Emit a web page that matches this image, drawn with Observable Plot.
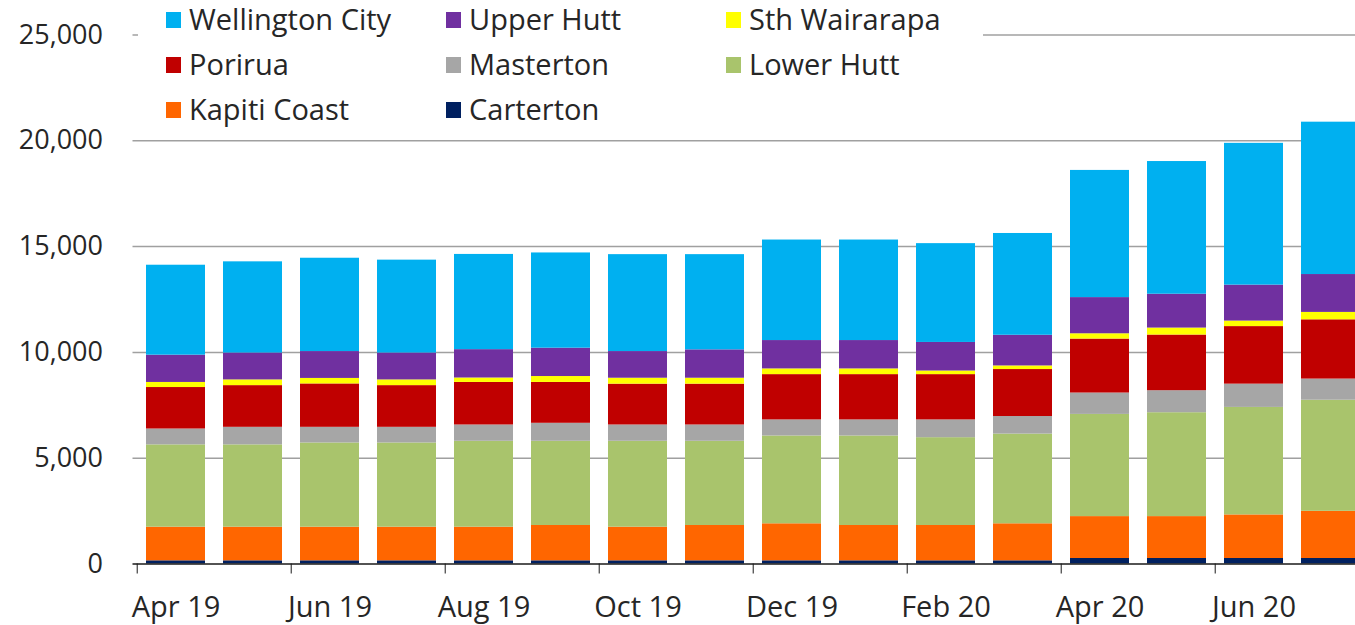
<!DOCTYPE html>
<html>
<head>
<meta charset="utf-8">
<script src="https://cdn.jsdelivr.net/npm/d3@7"></script>
<script src="https://cdn.jsdelivr.net/npm/@observablehq/plot@0.6"></script>
<style>
  html, body { margin: 0; padding: 0; background: #fff; overflow: hidden; }
  #wrap { position: relative; width: 1355px; height: 625px; overflow: hidden; }
  #legend {
    position: absolute; left: 138px; top: 0; width: 845px; height: 134px;
    background: #fff; font-family: "Open Sans", sans-serif; font-size: 29px; color: #262626;
  }
  .item { position: absolute; display: flex; align-items: center; height: 45px; white-space: nowrap; }
  .sw { width: 15px; height: 16px; margin-right: 8px; margin-top: 3px; }
</style>
</head>
<body>
<div id="wrap"><div id="chart"></div><div id="legend"></div></div>
<script>
const months = ["Apr 19","May 19","Jun 19","Jul 19","Aug 19","Sep 19","Oct 19","Nov 19",
                "Dec 19","Jan 20","Feb 20","Mar 20","Apr 20","May 20","Jun 20","Jul 20"];
const tickMonths = ["Apr 19","Jun 19","Aug 19","Oct 19","Dec 19","Feb 20","Apr 20","Jun 20"];
const yTicks = [0, 5000, 10000, 15000, 20000, 25000];

// series values (stack order bottom -> top)
const carterton      = [150,150,150,150,150,150,150,150,150,150,150,150,260,260,260,260];
const kapitiCoast    = [1590,1590,1590,1590,1590,1670,1590,1670,1750,1670,1670,1750,1980,1980,2060,2230];
const lowerHutt      = [3890,3890,3980,3980,4060,3980,4060,3980,4150,4230,4150,4240,4830,4910,5080,5250];
const masterton      = [750,830,740,740,770,850,770,770,760,760,840,830,1010,1040,1100,1000];
const porirua        = [1960,1970,2050,1970,2010,1930,1930,1930,2140,2140,2140,2220,2550,2630,2720,2800];
const sthWairarapa   = [240,270,260,270,210,280,280,280,270,270,170,170,250,330,260,350];
const upperHutt      = [1290,1270,1270,1270,1340,1340,1260,1340,1340,1340,1350,1450,1710,1600,1700,1790];
const wellingtonCity = [4250,4310,4410,4390,4500,4500,4580,4500,4750,4750,4670,4810,6010,6270,6700,7200];

const seriesNames  = ["Carterton","Kapiti Coast","Lower Hutt","Masterton","Porirua","Sth Wairarapa","Upper Hutt","Wellington City"];
const seriesValues = [carterton, kapitiCoast, lowerHutt, masterton, porirua, sthWairarapa, upperHutt, wellingtonCity];
const seriesColors = ["#002060","#FF6600","#A9C46C","#A6A6A6","#C00000","#FFFF00","#7030A0","#00B0F0"];
const legendOrder  = ["Wellington City","Upper Hutt","Sth Wairarapa","Porirua","Masterton","Lower Hutt","Kapiti Coast","Carterton"];

const data = [];
seriesNames.forEach((s, si) => months.forEach((m, mi) => data.push({month: m, series: s, value: seriesValues[si][mi]})));

const W = 1380, ML = 132.5, MR = 6;
const step = (W - ML - MR) / months.length;

const chart = Plot.plot({
  width: W, height: 625,
  marginLeft: ML, marginRight: MR, marginTop: 34.5, marginBottom: 61.5,
  style: {fontFamily: "'Open Sans', sans-serif", fontSize: "27px", color: "#262626", maxWidth: "none", background: "#fff"},
  x: {type: "band", domain: months, paddingInner: 0.24, paddingOuter: 0.12, label: null},
  y: {domain: [0, 25000], label: null},
  color: {domain: seriesNames, range: seriesColors},
  marks: [
    Plot.gridY(yTicks.slice(1), {stroke: "#A0A0A0", strokeOpacity: 1, strokeWidth: 1.5}),
    Plot.barY(data, {x: "month", y: "value", fill: "series"}),
    Plot.ruleY([0], {stroke: "#1a1a1a", strokeWidth: 1.5}),
    Plot.axisY(yTicks, {tickSize: 0, tickPadding: 30, tickFormat: d3.format(","), fill: "#262626", fontSize: 27, label: null}),
    Plot.axisX(tickMonths, {tickSize: 0, tickPadding: 32, fill: "#262626", fontSize: 29, label: null}),
    Plot.axisX(tickMonths, {tickSize: 10, tickFormat: () => "", dx: -step / 2, stroke: "#1a1a1a", label: null})
  ]
});
document.getElementById("chart").appendChild(chart);

const legend = document.getElementById("legend");
legendOrder.forEach((name, i) => {
  const col = i % 3, row = Math.floor(i / 3);
  const it = document.createElement("div");
  it.className = "item";
  it.style.left = (28 + col * 280) + "px";
  it.style.top = (-4.5 + row * 45) + "px";
  const sw = document.createElement("div");
  sw.className = "sw";
  sw.style.background = seriesColors[seriesNames.indexOf(name)];
  const tx = document.createElement("span");
  tx.textContent = name;
  it.appendChild(sw); it.appendChild(tx);
  legend.appendChild(it);
});
</script>
</body>
</html>
